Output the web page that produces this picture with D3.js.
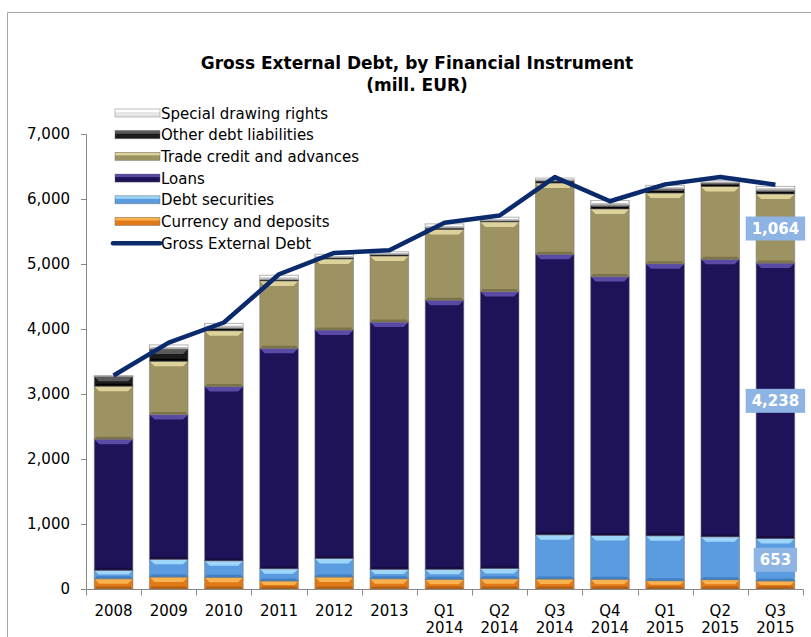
<!DOCTYPE html>
<html>
<head>
<meta charset="utf-8">
<script src="https://cdn.jsdelivr.net/npm/d3@7"></script>
<style>
  html, body { margin: 0; padding: 0; background: #fff; }
  svg { display: block; }
  text { font-family: "DejaVu Sans", Verdana, sans-serif; fill: #000; }
</style>
</head>
<body>
<svg id="chart" width="811" height="637"></svg>
<script>
// Gross external debt by instrument, million EUR
const categories = ["2008", "2009", "2010", "2011", "2012", "2013",
  "Q1 2014", "Q2 2014", "Q3 2014", "Q4 2014", "Q1 2015", "Q2 2015", "Q3 2015"];
const currencyDeposits = [158, 184, 179, 123, 184, 158, 149, 158, 153, 149, 128, 143, 123];
const debtSecurities   = [129, 272, 255, 189, 287, 144, 153, 159, 680, 675, 690, 660, 653];
const loans            = [2018, 2227, 2682, 3391, 3514, 3805, 4142, 4259, 4316, 3982, 4187, 4269, 4238];
const tradeCredit      = [816, 821, 858, 1037, 1092, 1016, 1087, 1072, 1096, 1041, 1087, 1122, 1064];
const otherDebt        = [148, 190, 41, 20, 22, 25, 25, 18, 37, 57, 61, 51, 55];
const specialDrawing   = [15, 61, 71, 67, 50, 40, 61, 54, 40, 72, 57, 37, 61];
const grossExternal    = [3285, 3790, 4100, 4842, 5170, 5210, 5633, 5746, 6337, 5965, 6225, 6337, 6220];
const yTicks = [0, 1000, 2000, 3000, 4000, 5000, 6000, 7000];

const seriesDefs = [
  { name: "Currency and deposits", values: currencyDeposits, base: "#e07a18", light: "#f9b24e", dark: "#b85e0c" },
  { name: "Debt securities", values: debtSecurities, base: "#5b9be0", light: "#9ed6fa", dark: "#3f7fc4" },
  { name: "Loans", values: loans, base: "#1e1258", light: "#5a4aa6", dark: "#150c42" },
  { name: "Trade credit and advances", values: tradeCredit, base: "#9c9262", light: "#ddd39a", dark: "#7c7348" },
  { name: "Other debt liabilities", values: otherDebt, base: "#1c1c1c", light: "#5a5a5a", dark: "#000000" },
  { name: "Special drawing rights", values: specialDrawing, base: "#e6e6e6", light: "#ffffff", dark: "#bdbdbd" }
];
// labelled segments of the last column
const labelled = [
  { series: "Debt securities", index: 12 },
  { series: "Loans", index: 12 },
  { series: "Trade credit and advances", index: 12 }
];

const svg = d3.select("#chart");
const margin = { left: 86, right: 8, top: 134, bottom: 48 };

// outer frame
svg.append("path")
  .attr("d", "M7.5,637 L7.5,12.5 L811,12.5")
  .attr("fill", "none").attr("stroke", "#a6a6a6").attr("stroke-width", 1);

const x = d3.scaleBand().domain(categories).range([margin.left, 803]).paddingInner(0.3).paddingOuter(0.15);
const y = d3.scaleLinear().domain([0, 7000]).range([589, 134]);

// stack the series
const rows = categories.map((c, i) => {
  const r = { cat: c };
  seriesDefs.forEach(s => r[s.name] = s.values[i]);
  return r;
});
const stack = d3.stack().keys(seriesDefs.map(s => s.name))(rows);

const g = svg.append("g");
stack.forEach((layer, li) => {
  const def = seriesDefs[li];
  layer.forEach((d, i) => {
    const x0 = x(categories[i]);
    const w = x.bandwidth();
    const yTop = y(d[1]);
    const yBot = y(d[0]);
    const h = yBot - yTop;
    if (h <= 0) return;
    const seg = g.append("g");
    seg.append("rect")
      .attr("x", x0).attr("y", yTop).attr("width", w).attr("height", h)
      .attr("fill", def.base);
    // bevelled top band
    const b = Math.min(5, h / 2);
    seg.append("polygon")
      .attr("points", [[x0, yTop], [x0 + w, yTop], [x0 + w - b, yTop + b], [x0 + b, yTop + b]].map(p => p.join(",")).join(" "))
      .attr("fill", def.light);
    // bevelled bottom edge
    const sb = Math.min(2.5, h / 2);
    seg.append("polygon")
      .attr("points", [[x0, yBot], [x0 + w, yBot], [x0 + w - sb, yBot - sb], [x0 + sb, yBot - sb]].map(p => p.join(",")).join(" "))
      .attr("fill", def.dark);
    seg.append("rect")
      .attr("x", x0).attr("y", yTop).attr("width", w).attr("height", h)
      .attr("fill", "none").attr("stroke", "rgba(120,120,120,0.55)").attr("stroke-width", 1);
  });
});

// axes
const yAxis = d3.axisLeft(y).tickValues(yTicks).tickSize(5).tickPadding(11)
  .tickFormat(d3.format(",.0f"));
const yG = svg.append("g").attr("transform", `translate(${margin.left},0)`).call(yAxis);
yG.select(".domain").attr("stroke", "#888").attr("d", `M-5,134.5H0.5V589.5`);
yG.selectAll(".tick line").attr("stroke", "#888");
yG.selectAll(".tick text").attr("font-size", 15).attr("font-family", "DejaVu Sans, Verdana, sans-serif").attr("fill", "#000");

const xAxisG = svg.append("g").attr("transform", "translate(0,589.5)");
xAxisG.append("line").attr("x1", margin.left).attr("x2", 803).attr("stroke", "#888");
const step = x.step();
const firstEdge = x(categories[0]) - x.paddingInner() * step / 2;
const boundaries = d3.range(categories.length + 1).map(i => firstEdge + i * step);
xAxisG.selectAll("line.tk").data(boundaries).join("line").attr("class", "tk")
  .attr("x1", d => Math.round(d) + 0.5).attr("x2", d => Math.round(d) + 0.5)
  .attr("y1", 0).attr("y2", 6).attr("stroke", "#888");
categories.forEach(c => {
  const parts = c.split(" ");
  const t = xAxisG.append("text")
    .attr("x", x(c) + x.bandwidth() / 2)
    .attr("text-anchor", "middle").attr("font-size", 15);
  parts.forEach((p, k) => t.append("tspan").attr("x", x(c) + x.bandwidth() / 2).attr("y", 26 + k * 17.5).text(p));
});

// gross external debt line
const line = d3.line().x((d, i) => x(categories[i]) + x.bandwidth() / 2).y(d => y(d));
svg.append("path").datum(grossExternal).attr("d", line)
  .attr("fill", "none").attr("stroke", "#0b2a6c").attr("stroke-width", 4.5)
  .attr("stroke-linejoin", "round");

// value labels
labelled.forEach(l => {
  const li = seriesDefs.findIndex(s => s.name === l.series);
  const d = stack[li][l.index];
  const cx = x(categories[l.index]) + x.bandwidth() / 2;
  const cy = (y(d[0]) + y(d[1])) / 2;
  const txt = d3.format(",")(seriesDefs[li].values[l.index]);
  const lab = svg.append("g");
  const t = lab.append("text").attr("x", cx).attr("y", cy + 5.5)
    .attr("text-anchor", "middle").attr("font-size", 15).attr("font-weight", "bold")
    .style("fill", "#fff").text(txt);
  const bw = t.node().getComputedTextLength() + 12;
  lab.insert("rect", "text").attr("x", cx - bw / 2).attr("y", cy - 12).attr("width", bw).attr("height", 24)
    .attr("fill", "#8db4e3");
});

// title
const title = svg.append("text").attr("x", 417).attr("text-anchor", "middle")
  .attr("font-weight", "bold").attr("font-size", 17);
title.append("tspan").attr("x", 417).attr("y", 69).text("Gross External Debt, by Financial Instrument");
title.append("tspan").attr("x", 417).attr("y", 91).text("(mill. EUR)");

// legend
const legendItems = seriesDefs.slice().reverse();
const legend = svg.append("g");
legendItems.forEach((s, i) => {
  const cy = 113 + i * 21.7;
  legend.append("rect").attr("x", 115).attr("y", cy - 4).attr("width", 45).attr("height", 8).attr("fill", s.base);
  legend.append("rect").attr("x", 115).attr("y", cy - 4).attr("width", 45).attr("height", 3).attr("fill", s.light);
  legend.append("rect").attr("x", 115).attr("y", cy - 4).attr("width", 45).attr("height", 8)
    .attr("fill", "none").attr("stroke", "rgba(100,100,100,0.5)").attr("stroke-width", 0.8);
  legend.append("text").attr("x", 161).attr("y", cy + 5.5).attr("font-size", 15).text(s.name);
});
const gy = 113 + 6 * 21.7;
legend.append("line").attr("x1", 113).attr("x2", 160).attr("y1", gy).attr("y2", gy)
  .attr("stroke", "#0b2a6c").attr("stroke-width", 4.5).attr("stroke-linecap", "round");
legend.append("text").attr("x", 161).attr("y", gy + 5.5).attr("font-size", 15).text("Gross External Debt");
</script>
</body>
</html>
